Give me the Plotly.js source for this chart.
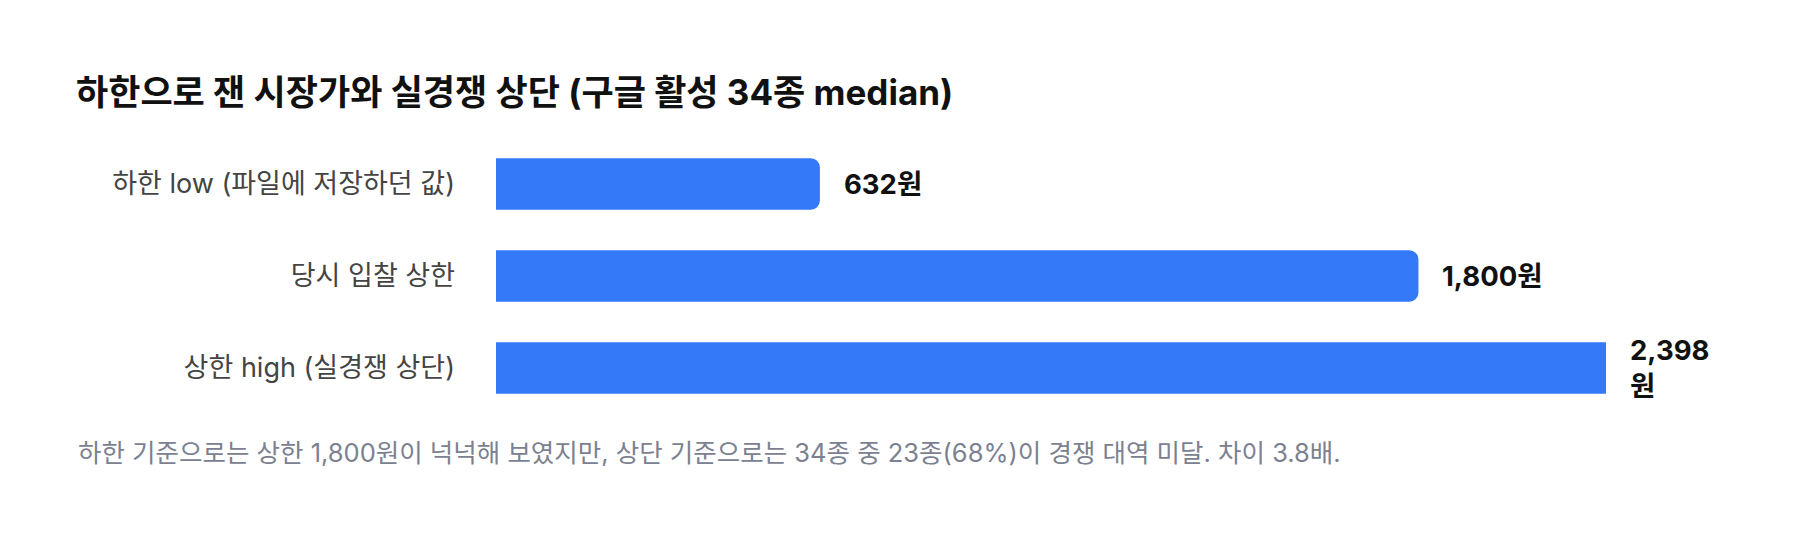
<!DOCTYPE html>
<html>
<head>
<meta charset="utf-8">
<script src="https://cdn.plot.ly/plotly-3.0.1.min.js"></script>
<style>
  html, body { margin: 0; padding: 0; background: #fff; }
  #chart { width: 1800px; height: 536px; }
</style>
</head>
<body>
<div id="chart"></div>
<script>
const categories = ["하한 low (파일에 저장하던 값)", "당시 입찰 상한", "상한 high (실경쟁 상단)"]
const values = [632, 1800, 2398]
const valueLabels = ["632원", "1,800원", "2,398<br>원"]
const axisMax = 2166  // 오른쪽 끝에서 상한 막대가 잘린다
const titleText = "하한으로 잰 시장가와 실경쟁 상단 (구글 활성 34종 median)"
const noteText = "하한 기준으로는 상한 1,800원이 넉넉해 보였지만, 상단 기준으로는 34종 중 23종(68%)이 경쟁 대역 미달. 차이 3.8배."

const fontFamily = "Inter, 'Noto Sans CJK KR', sans-serif"
const W = 1800, H = 536
const margin = { l: 496, r: 194, t: 138, b: 122 }

const traceBars = {
    type: "bar",
    orientation: "h",
    y: categories,
    x: values,
    marker: { color: "#3479f7", cornerradius: 9 },
    hoverinfo: "skip"
}

// 값 라벨: 막대 끝(축 끝에서 잘리면 축 끝)에서 22px 오른쪽
const labelNotes = categories.map((c, i) => ({
    x: Math.min(values[i], axisMax),
    y: c,
    xref: "x", yref: "y",
    text: "<b>" + valueLabels[i] + "</b>",
    xanchor: "left", yanchor: "middle",
    align: "left",
    xshift: 22,
    showarrow: false,
    font: { family: fontFamily, size: 27.5, color: "#111" }
}))

const plotH = H - margin.t - margin.b

const layout = {
    width: W,
    height: H,
    margin: margin,
    paper_bgcolor: "#fff",
    plot_bgcolor: "#fff",
    showlegend: false,
    bargap: 0.44,
    font: { family: fontFamily },
    title: {
        text: "<b>" + titleText + "</b>",
        x: 76 / W, xref: "container", xanchor: "left",
        y: 1 - 93 / H, yref: "container", yanchor: "middle",
        font: { family: fontFamily, size: 35, color: "#111" }
    },
    xaxis: {
        range: [0, axisMax],
        visible: false,
        fixedrange: true
    },
    yaxis: {
        autorange: "reversed",
        showgrid: false,
        zeroline: false,
        showline: false,
        ticks: "",
        ticklabelstandoff: 40,
        tickfont: { family: fontFamily, size: 27, color: "#444" },
        fixedrange: true
    },
    annotations: labelNotes.concat([{
        text: noteText,
        xref: "paper", yref: "paper",
        x: (76 - margin.l) / (W - margin.l - margin.r),
        y: -(452 - (H - margin.b)) / plotH,
        xanchor: "left", yanchor: "middle",
        showarrow: false,
        font: { family: fontFamily, size: 25.5, color: "#7b8190" }
    }])
}

Plotly.newPlot("chart", [traceBars], layout, { displayModeBar: false, staticPlot: true })
</script>
</body>
</html>
